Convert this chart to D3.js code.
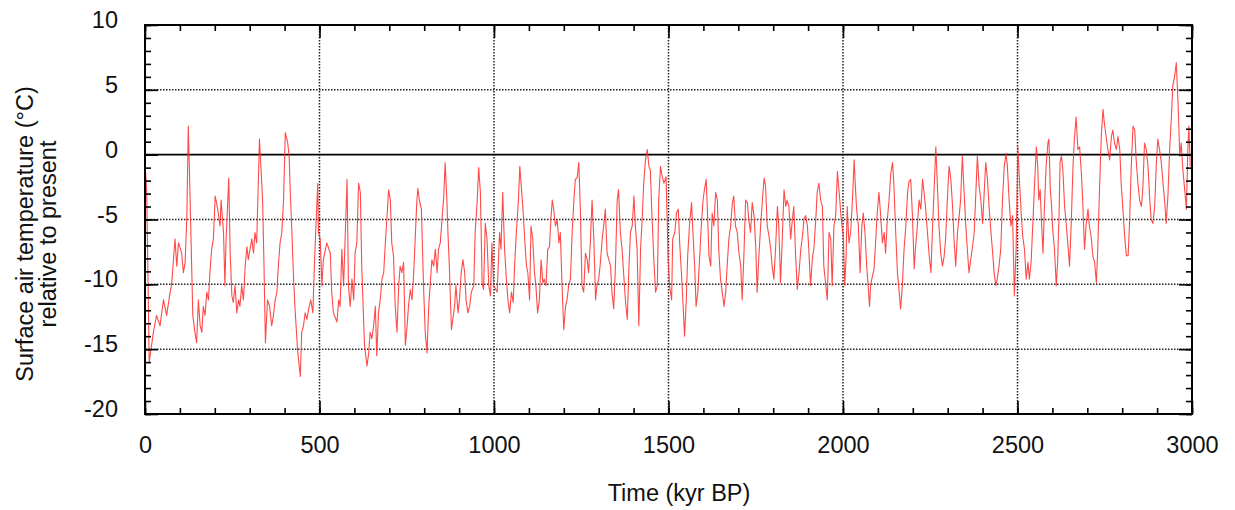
<!DOCTYPE html>
<html>
<head>
<meta charset="utf-8">
<script src="https://cdn.jsdelivr.net/npm/d3@7"></script>
<style>
  body { margin: 0; background: #fff; }
  text { font-family: "Liberation Sans", Arial, sans-serif; fill: #111; }
</style>
</head>
<body>
<svg id="chart" width="1235" height="510"></svg>
<script>
// [age (kyr BP), surface air temperature anomaly (°C)]
var record = [
  [0,-0.5],[5,-3],[12,-16],[24,-13.7],[33,-12.4],[43,-13.2],[53,-11.2],[62,-12.4],[72,-10.6],[76,-10.1],
  [81,-8.3],[86,-6.5],[91,-8.6],[96,-6.8],[105,-7.6],[110,-9.1],[115,-8.3],[120,-4.7],[124,2.2],[127,-0.9],
  [131,-5.5],[137,-12.4],[143,-13.7],[148,-14.5],[153,-11.2],[158,-13.2],[163,-13.7],[167,-11.7],[172,-12.4],[177,-10.6],
  [182,-11.2],[186,-9.1],[191,-7.3],[196,-6.5],[201,-3.2],[205,-3.7],[210,-4.5],[215,-5.5],[218,-3.5],[225,-6.0],
  [229,-10.1],[232,-6.8],[240,-1.8],[244,-7.6],[249,-10.9],[253,-11.4],[258,-10.1],[263,-12.2],[268,-11.2],[272,-11.7],
  [277,-10.1],[282,-11.2],[287,-8.6],[292,-7.1],[296,-8.1],[306,-6.5],[311,-7.6],[315,-6.0],[320,-6.8],[328,1.2],
  [332,-0.9],[337,-3.5],[341,-8.6],[345,-14.5],[351,-11.2],[357,-11.7],[363,-13.2],[368,-12.4],[373,-11.2],[378,-10.6],
  [382,-8.6],[387,-6.8],[392,-6.0],[397,-3.5],[402,1.7],[409,0.9],[413,-0.1],[416,-2.7],[421,-6.0],[425,-9.1],
  [430,-11.9],[437,-15.0],[445,-17.1],[449,-13.7],[454,-13.2],[459,-12.2],[464,-12.7],[469,-11.9],[475,-11.2],[481,-12.2],
  [485,-8.8],[489,-6.0],[495,-2.2],[497,-6.0],[502,-6.5],[507,-10.1],[511,-8.1],[521,-6.8],[531,-7.6],[535,-10.6],
  [540,-12.2],[550,-12.9],[555,-11.2],[559,-11.7],[564,-7.3],[569,-10.1],[574,-6.0],[579,-1.9],[583,-10.1],[588,-11.7],
  [593,-9.6],[598,-11.2],[602,-7.6],[607,-6.8],[612,-2.2],[617,-2.9],[621,-8.6],[629,-14.7],[636,-16.3],[641,-15.3],
  [645,-13.7],[650,-14.2],[655,-13.2],[660,-11.7],[664,-15.5],[669,-12.2],[674,-11.2],[679,-9.6],[684,-9.1],[688,-7.1],
  [693,-5.0],[698,-2.7],[703,-3.5],[707,-6.8],[712,-7.8],[717,-11.7],[722,-13.7],[727,-10.1],[731,-8.6],[736,-9.1],
  [741,-8.3],[746,-14.7],[751,-13.2],[755,-11.7],[760,-10.4],[765,-11.2],[770,-9.1],[775,-6.0],[779,-3.5],[782,-2.6],
  [786,-3.5],[792,-4.2],[798,-10.1],[803,-13.7],[808,-15.3],[813,-11.7],[817,-10.1],[822,-8.1],[827,-8.6],[832,-7.3],
  [837,-9.1],[841,-7.3],[846,-6.8],[851,-5.0],[856,-3.2],[860,-0.6],[865,-3.5],[868,-6.0],[872,-8.6],[878,-13.5],
  [882,-12.7],[887,-11.7],[891,-10.1],[897,-12.2],[901,-11.2],[906,-9.1],[911,-8.1],[916,-9.1],[920,-11.2],[925,-12.2],
  [930,-11.7],[935,-10.6],[942,-10.1],[946,-6.0],[952,-3.5],[956,-1.0],[961,-2.9],[966,-9.9],[970,-10.4],[975,-5.3],
  [980,-6.5],[985,-10.1],[990,-10.9],[994,-6.8],[999,-10.1],[1009,-10.6],[1016,-6.0],[1020,-7.3],[1025,-2.9],[1030,-7.1],
  [1035,-9.4],[1040,-11.2],[1045,-12.2],[1050,-10.6],[1055,-11.4],[1059,-8.6],[1064,-6.0],[1070,-3.5],[1074,-0.9],[1078,-2.4],
  [1083,-4.2],[1088,-6.5],[1093,-8.6],[1097,-9.1],[1102,-11.2],[1106,-5.5],[1111,-6.5],[1116,-9.1],[1120,-10.1],[1125,-12.2],
  [1130,-11.2],[1135,-8.1],[1140,-9.9],[1144,-9.6],[1149,-10.1],[1154,-7.3],[1159,-7.1],[1163,-5.0],[1167,-3.5],[1171,-4.2],
  [1176,-5.5],[1181,-5.0],[1186,-6.8],[1190,-6.0],[1195,-10.1],[1200,-13.5],[1205,-11.7],[1209,-11.2],[1214,-10.1],[1219,-9.6],
  [1224,-6.0],[1229,-3.5],[1233,-1.9],[1238,-1.8],[1243,-0.6],[1248,-4.7],[1252,-10.1],[1257,-10.6],[1262,-7.6],[1267,-8.1],
  [1271,-9.1],[1276,-6.8],[1281,-3.5],[1286,-6.5],[1291,-11.2],[1295,-10.1],[1300,-9.6],[1305,-8.3],[1310,-6.5],[1315,-5.3],
  [1319,-4.2],[1324,-7.6],[1329,-8.1],[1334,-8.6],[1338,-10.6],[1343,-11.9],[1348,-8.6],[1353,-3.5],[1357,-2.7],[1362,-6.0],
  [1367,-7.3],[1372,-9.4],[1377,-11.4],[1382,-12.7],[1386,-9.1],[1391,-6.0],[1396,-5.5],[1401,-3.2],[1405,-5.5],[1410,-7.3],
  [1415,-13.2],[1420,-7.3],[1425,-4.7],[1429,-2.2],[1434,-0.4],[1439,0.4],[1444,-0.9],[1448,-1.2],[1453,-5.0],[1458,-8.1],
  [1463,-10.6],[1468,-10.1],[1472,-3.5],[1477,-0.9],[1482,-1.7],[1487,-2.2],[1493,-1.7],[1499,-8.1],[1503,-10.1],[1509,-11.2],
  [1512,-6.5],[1518,-6.0],[1523,-4.5],[1528,-4.2],[1532,-6.8],[1537,-9.1],[1542,-11.7],[1546,-14.0],[1551,-11.2],[1555,-7.8],
  [1560,-5.5],[1566,-3.7],[1570,-6.0],[1575,-8.6],[1579,-11.7],[1584,-10.6],[1589,-8.1],[1594,-5.5],[1599,-3.5],[1603,-2.7],
  [1608,-1.9],[1612,-4.7],[1616,-7.8],[1621,-8.6],[1625,-4.5],[1630,-5.5],[1635,-2.9],[1640,-3.5],[1644,-7.3],[1649,-9.6],
  [1654,-10.6],[1659,-11.7],[1664,-10.6],[1668,-8.6],[1673,-6.5],[1678,-5.5],[1683,-3.7],[1687,-3.2],[1692,-5.5],[1697,-6.0],
  [1702,-7.6],[1707,-8.6],[1711,-11.2],[1716,-7.8],[1721,-3.5],[1726,-3.7],[1730,-5.0],[1735,-6.0],[1740,-3.7],[1745,-4.7],
  [1750,-7.1],[1754,-10.6],[1759,-7.8],[1764,-5.5],[1769,-3.5],[1774,-1.8],[1778,-2.4],[1783,-5.5],[1788,-6.3],[1793,-7.3],
  [1797,-8.6],[1802,-9.6],[1807,-7.1],[1812,-4.0],[1816,-5.5],[1821,-9.9],[1826,-6.5],[1831,-2.7],[1836,-4.0],[1840,-3.5],
  [1845,-4.0],[1850,-6.5],[1855,-5.0],[1859,-4.0],[1864,-7.6],[1869,-10.4],[1874,-9.1],[1879,-7.3],[1883,-6.5],[1888,-5.0],
  [1893,-4.7],[1898,-5.5],[1902,-7.3],[1907,-10.1],[1912,-8.1],[1917,-7.1],[1922,-5.0],[1926,-2.9],[1931,-2.2],[1936,-3.5],
  [1941,-4.0],[1945,-8.6],[1950,-9.9],[1955,-11.2],[1960,-6.0],[1965,-6.5],[1969,-10.1],[1974,-5.5],[1979,-4.7],[1984,-1.3],
  [1989,-2.9],[1995,-5.0],[2001,-6.3],[2005,-10.1],[2009,-7.8],[2012,-4.0],[2017,-6.8],[2022,-6.0],[2027,-3.5],[2032,-0.4],
  [2035,-2.2],[2039,-4.2],[2044,-5.5],[2049,-9.1],[2054,-5.5],[2058,-4.5],[2063,-6.0],[2068,-8.6],[2072,-10.1],[2076,-11.7],
  [2079,-10.1],[2084,-9.4],[2089,-8.8],[2094,-6.5],[2098,-4.5],[2103,-2.9],[2108,-4.7],[2113,-6.8],[2118,-6.0],[2122,-7.6],
  [2127,-5.0],[2132,-3.5],[2137,-1.4],[2142,-0.6],[2146,-2.4],[2151,-6.0],[2156,-9.1],[2161,-10.6],[2165,-11.9],[2170,-10.1],
  [2175,-7.3],[2180,-5.5],[2185,-2.9],[2189,-2.1],[2194,-1.9],[2199,-4.7],[2204,-8.8],[2208,-7.1],[2213,-5.5],[2218,-3.5],
  [2223,-4.2],[2228,-1.9],[2232,-2.9],[2237,-4.2],[2242,-6.0],[2247,-7.8],[2252,-9.1],[2256,-6.0],[2261,-2.7],[2266,0.6],
  [2271,-2.7],[2275,-5.5],[2280,-7.6],[2285,-8.6],[2290,-7.8],[2294,-6.5],[2299,-3.5],[2304,-0.9],[2309,-1.9],[2314,-4.0],
  [2318,-6.5],[2323,-8.6],[2328,-6.0],[2333,-4.7],[2337,-3.5],[2342,-0.1],[2347,-2.9],[2352,-5.5],[2357,-7.6],[2361,-9.1],
  [2366,-8.1],[2371,-7.1],[2376,-6.0],[2381,-2.7],[2385,-0.1],[2390,-2.4],[2395,-3.5],[2400,-5.3],[2405,-2.7],[2409,-0.6],
  [2414,-1.9],[2419,-4.2],[2424,-6.0],[2428,-7.3],[2433,-9.1],[2438,-10.1],[2443,-9.4],[2447,-8.6],[2452,-7.3],[2457,-3.5],
  [2462,-0.9],[2467,0.1],[2471,-0.9],[2476,-3.5],[2481,-5.5],[2486,-4.7],[2491,-10.9],[2496,-7.3],[2501,0.6],[2506,-2.2],
  [2511,-4.7],[2515,-6.3],[2520,-7.3],[2525,-9.6],[2530,-8.3],[2534,-9.6],[2539,-8.3],[2544,-5.3],[2549,-2.2],[2554,0.6],
  [2558,-0.9],[2561,-3.5],[2565,-2.7],[2569,-5.3],[2573,-7.6],[2577,-4.2],[2582,-0.9],[2587,0.9],[2590,1.2],[2594,-2.7],
  [2597,-3.7],[2601,-5.8],[2606,-7.3],[2611,-10.1],[2615,-8.3],[2619,-4.7],[2622,-0.6],[2626,-0.1],[2630,-1.2],[2635,-4.0],
  [2640,-5.5],[2644,-6.8],[2649,-8.6],[2654,-5.3],[2659,-0.9],[2663,1.2],[2668,2.9],[2673,0.4],[2678,0.6],[2683,-1.4],
  [2687,-3.7],[2692,-7.3],[2697,-5.3],[2702,-4.2],[2706,-5.5],[2711,-6.3],[2716,-7.8],[2721,-8.3],[2726,-9.9],[2730,-7.3],
  [2735,-2.7],[2740,1.4],[2745,3.5],[2749,2.4],[2754,1.4],[2759,0.4],[2764,-0.4],[2769,1.4],[2773,1.9],[2778,0.9],
  [2783,0.4],[2788,1.4],[2793,0.4],[2797,-2.2],[2802,-4.2],[2807,-6.3],[2812,-7.8],[2817,-7.8],[2821,-5.3],[2826,-0.9],
  [2831,2.2],[2836,1.9],[2840,-0.4],[2845,-2.2],[2850,-3.5],[2855,-4.0],[2859,-2.7],[2864,0.9],[2869,0.4],[2874,-0.9],
  [2879,-3.5],[2883,-5.0],[2888,-5.3],[2893,-4.0],[2898,-0.6],[2902,1.2],[2907,0.4],[2912,-0.6],[2917,-2.2],[2922,-3.7],
  [2926,-5.3],[2931,-3.2],[2936,0.4],[2941,2.9],[2945,5.3],[2950,6.0],[2955,7.1],[2960,4.0],[2965,-0.1],[2969,0.9],
  [2974,-1.2],[2979,-2.7],[2984,-4.2],[2988,0.4],[2991,2.2],[2995,-0.9]
];

var xMajorTicks = [0, 500, 1000, 1500, 2000, 2500, 3000];
var yMajorTicks = [-20, -15, -10, -5, 0, 5, 10];
var xTitle = 'Time (kyr BP)';
var yTitle = ['Surface air temperature (\u00B0C)', 'relative to present'];

var svg = d3.select('#chart');
var box = { left: 145, right: 1192, top: 25, bottom: 414 };
var fontSize = 23.5;

var x = d3.scaleLinear().domain([0, 3000]).range([box.left, box.right]);
var y = d3.scaleLinear().domain([-20, 10]).range([box.bottom, box.top]);

var xMinor = d3.range(0, 3001, 100);
var yMinor = d3.range(-20, 11, 1);
var plain = d => String(d);   // hyphen minus, no thousands separator

// dotted grid, zero line solid
var grid = svg.append('g');
grid.selectAll('line.gx')
  .data(xMajorTicks.slice(1, -1))
  .join('line')
    .attr('x1', d => x(d)).attr('x2', d => x(d))
    .attr('y1', box.top).attr('y2', box.bottom)
    .attr('stroke', '#222').attr('stroke-width', 1.5)
    .attr('stroke-dasharray', '1.5,1.5');
grid.selectAll('line.gy')
  .data(yMajorTicks.slice(1, -1))
  .join('line')
    .attr('x1', box.left).attr('x2', box.right)
    .attr('y1', d => y(d)).attr('y2', d => y(d))
    .attr('stroke', d => d === 0 ? '#000' : '#222')
    .attr('stroke-width', d => d === 0 ? 1.8 : 1.5)
    .attr('stroke-dasharray', d => d === 0 ? null : '1.5,1.5');

// the record itself
var line = d3.line().x(d => x(d[0])).y(d => y(d[1]));
svg.append('path')
  .datum(record)
  .attr('fill', 'none')
  .attr('stroke', '#ff2a2a')
  .attr('stroke-width', 1.1)
  .attr('stroke-opacity', 0.85)
  .attr('stroke-linejoin', 'round')
  .attr('d', line);

// axes: ticks pointing inward on all four sides
function minor(axis) { return axis.tickFormat('').tickSizeOuter(0); }

svg.append('g').attr('transform', 'translate(0,' + box.bottom + ')')
  .call(minor(d3.axisBottom(x).tickValues(xMinor).tickSizeInner(-6)));
svg.append('g').attr('transform', 'translate(0,' + box.top + ')')
  .call(minor(d3.axisTop(x).tickValues(xMinor).tickSizeInner(-6)));
svg.append('g').attr('transform', 'translate(' + box.left + ',0)')
  .call(minor(d3.axisLeft(y).tickValues(yMinor).tickSizeInner(-6)));
svg.append('g').attr('transform', 'translate(' + box.right + ',0)')
  .call(minor(d3.axisRight(y).tickValues(yMinor).tickSizeInner(-6)));

svg.append('g').attr('class', 'xaxis')
  .attr('transform', 'translate(0,' + box.bottom + ')')
  .call(d3.axisBottom(x).tickValues(xMajorTicks).tickFormat(plain)
    .tickSizeInner(-13).tickSizeOuter(0).tickPadding(22));
svg.append('g').attr('transform', 'translate(0,' + box.top + ')')
  .call(d3.axisTop(x).tickValues(xMajorTicks).tickSizeInner(-13).tickSizeOuter(0).tickFormat(''));
svg.append('g').attr('class', 'yaxis')
  .attr('transform', 'translate(' + box.left + ',0)')
  .call(d3.axisLeft(y).tickValues(yMajorTicks).tickFormat(plain)
    .tickSizeInner(-13).tickSizeOuter(0).tickPadding(27));
svg.append('g').attr('transform', 'translate(' + box.right + ',0)')
  .call(d3.axisRight(y).tickValues(yMajorTicks).tickSizeInner(-13).tickSizeOuter(0).tickFormat(''));

svg.selectAll('.tick line').attr('stroke', '#000').attr('stroke-width', 1.6);
svg.selectAll('.domain').remove();
svg.selectAll('.xaxis text, .yaxis text')
  .attr('font-size', fontSize)
  .attr('font-family', '"Liberation Sans", Arial, sans-serif')
  .attr('fill', '#111');
svg.selectAll('.yaxis text').attr('dy', '0.11em');

// frame
svg.append('rect')
  .attr('x', box.left).attr('y', box.top)
  .attr('width', box.right - box.left).attr('height', box.bottom - box.top)
  .attr('fill', 'none').attr('stroke', '#000').attr('stroke-width', 2);

// titles
svg.append('text')
  .attr('x', 679).attr('y', 501)
  .attr('text-anchor', 'middle')
  .attr('font-size', fontSize)
  .text(xTitle);

svg.append('g')
  .attr('transform', 'translate(0,234) rotate(-90)')
  .selectAll('text')
  .data(yTitle)
  .join('text')
    .attr('x', 0)
    .attr('y', (d, i) => 33 + i * 23)
    .attr('text-anchor', 'middle')
    .attr('font-size', fontSize)
    .text(d => d);
</script>
</body>
</html>
